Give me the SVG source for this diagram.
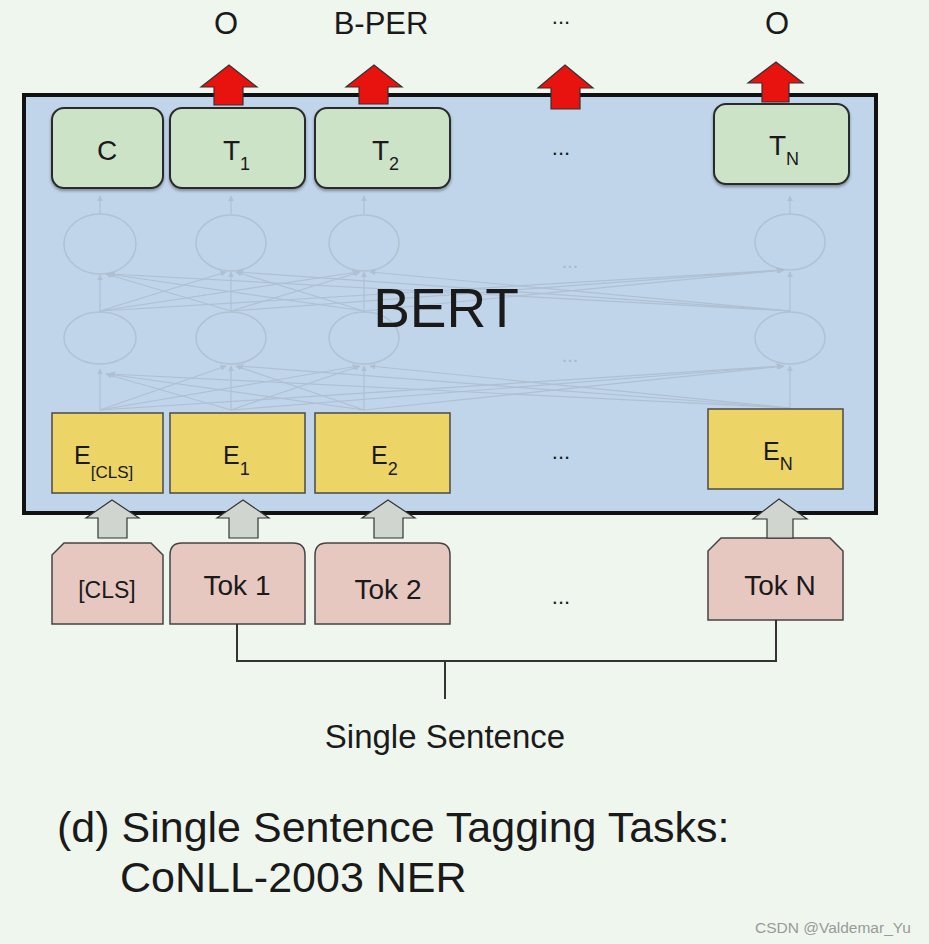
<svg xmlns="http://www.w3.org/2000/svg" width="929" height="944" viewBox="0 0 929 944">
<defs>
<style>
text{font-family:"Liberation Sans",Arial,sans-serif;fill:#1a1a1a}
.tbox{fill:#cde3c8;stroke:#2b2b2b;stroke-width:2}
.ebox{fill:#ecd467;stroke:#4a4a4a;stroke-width:1.5}
.tok{fill:#e6c8c1;stroke:#444;stroke-width:1.5}
.red{fill:#e8120f;stroke:#333;stroke-width:1.2}
.grey{fill:#d0d6cf;stroke:#333;stroke-width:1.2}
.net{stroke:#a9bacb;stroke-width:1.2;fill:none;opacity:0.75}
.node{fill:none;stroke:#adbdcd;stroke-width:1.5;opacity:0.8}
.conn{stroke:#333;stroke-width:2;fill:none}
</style>
<marker id="ah" viewBox="0 0 10 10" refX="9" refY="5" markerWidth="5" markerHeight="5" orient="auto">
<path d="M0,0 L10,5 L0,10 z" fill="#a9bacb"/>
</marker>
<filter id="sh" x="-10%" y="-10%" width="120%" height="130%">
<feDropShadow dx="0" dy="2" stdDeviation="1.5" flood-color="#000" flood-opacity="0.35"/>
</filter>
</defs>
<rect width="929" height="944" fill="#eff6ee"/>

<g id="bert-box">
<rect x="24" y="95" width="852" height="418" fill="#c0d4ea" stroke="#111" stroke-width="4"/>
</g>

<g id="network">
<ellipse class="node" cx="100" cy="244" rx="36" ry="30"/>
<ellipse class="node" cx="231" cy="243" rx="35" ry="28"/>
<ellipse class="node" cx="364" cy="243" rx="35" ry="28"/>
<ellipse class="node" cx="790" cy="242" rx="35" ry="28"/>
<ellipse class="node" cx="100" cy="338" rx="36" ry="26"/>
<ellipse class="node" cx="231" cy="338" rx="35" ry="26"/>
<ellipse class="node" cx="364" cy="338" rx="35" ry="26"/>
<ellipse class="node" cx="790" cy="338" rx="35" ry="26"/>
<g class="net" marker-end="url(#ah)">
<line x1="100" y1="214" x2="100" y2="196"/>
<line x1="231" y1="214" x2="231" y2="196"/>
<line x1="364" y1="214" x2="364" y2="196"/>
<line x1="790" y1="214" x2="790" y2="196"/>
<line x1="100" y1="311" x2="100" y2="275"/>
<line x1="231" y1="311" x2="231" y2="272"/>
<line x1="364" y1="311" x2="364" y2="272"/>
<line x1="790" y1="311" x2="790" y2="272"/>
<line x1="231" y1="311" x2="106" y2="274"/>
<line x1="364" y1="311" x2="108" y2="274"/>
<line x1="790" y1="311" x2="110" y2="274"/>
<line x1="100" y1="311" x2="226" y2="272"/>
<line x1="364" y1="311" x2="236" y2="272"/>
<line x1="790" y1="311" x2="238" y2="272"/>
<line x1="100" y1="311" x2="358" y2="272"/>
<line x1="231" y1="311" x2="360" y2="272"/>
<line x1="790" y1="311" x2="370" y2="272"/>
<line x1="100" y1="311" x2="782" y2="270"/>
<line x1="231" y1="311" x2="783" y2="270"/>
<line x1="364" y1="311" x2="784" y2="270"/>
<line x1="100" y1="410" x2="100" y2="369"/>
<line x1="231" y1="410" x2="231" y2="366"/>
<line x1="364" y1="410" x2="364" y2="366"/>
<line x1="790" y1="408" x2="790" y2="366"/>
<line x1="231" y1="410" x2="106" y2="374"/>
<line x1="364" y1="410" x2="108" y2="374"/>
<line x1="790" y1="408" x2="110" y2="374"/>
<line x1="100" y1="410" x2="226" y2="366"/>
<line x1="364" y1="410" x2="236" y2="366"/>
<line x1="790" y1="408" x2="238" y2="366"/>
<line x1="100" y1="410" x2="358" y2="366"/>
<line x1="231" y1="410" x2="360" y2="366"/>
<line x1="790" y1="408" x2="370" y2="366"/>
<line x1="100" y1="410" x2="782" y2="366"/>
<line x1="231" y1="410" x2="783" y2="366"/>
<line x1="364" y1="410" x2="784" y2="366"/>
</g>
<text x="570" y="268" font-size="20" text-anchor="middle" style="fill:#a8b8c8">...</text>
<text x="570" y="362" font-size="20" text-anchor="middle" style="fill:#a8b8c8">...</text>
</g>

<g id="bert-label">
<text x="446" y="327" font-size="55" text-anchor="middle">BERT</text>
</g>

<g id="outputs">
<text x="226" y="34" font-size="31" text-anchor="middle">O</text>
<text x="381" y="34" font-size="31" text-anchor="middle">B-PER</text>
<text x="561" y="24" font-size="22" text-anchor="middle">...</text>
<text x="777" y="34" font-size="31" text-anchor="middle">O</text>
</g>

<g id="node-C">
<rect class="tbox" filter="url(#sh)" x="52" y="108" width="111" height="80" rx="12"/>
<text x="107" y="160" font-size="28" text-anchor="middle">C</text>
</g>
<g id="node-T1">
<rect class="tbox" filter="url(#sh)" x="170" y="108" width="135" height="80" rx="12"/>
<text x="223" y="160" font-size="28">T<tspan dy="10" font-size="18">1</tspan></text>
</g>
<g id="node-T2">
<rect class="tbox" filter="url(#sh)" x="315" y="108" width="135" height="80" rx="12"/>
<text x="372" y="160" font-size="28">T<tspan dy="10" font-size="18">2</tspan></text>
</g>
<text x="561" y="155" font-size="22" text-anchor="middle">...</text>
<g id="node-TN">
<rect class="tbox" filter="url(#sh)" x="714" y="104" width="135" height="80" rx="12"/>
<text x="769" y="155" font-size="28">T<tspan dy="10" font-size="18">N</tspan></text>
</g>

<g id="node-ECLS">
<rect class="ebox" x="52" y="413" width="111" height="80"/>
<text x="74" y="464" font-size="25">E<tspan dy="14" font-size="17">[CLS]</tspan></text>
</g>
<g id="node-E1">
<rect class="ebox" x="170" y="413" width="135" height="80"/>
<text x="223" y="464" font-size="25">E<tspan dy="11" font-size="18">1</tspan></text>
</g>
<g id="node-E2">
<rect class="ebox" x="315" y="413" width="135" height="80"/>
<text x="371" y="464" font-size="25">E<tspan dy="11" font-size="18">2</tspan></text>
</g>
<text x="561" y="459" font-size="22" text-anchor="middle">...</text>
<g id="node-EN">
<rect class="ebox" x="708" y="409" width="135" height="80"/>
<text x="763" y="460" font-size="25">E<tspan dy="10" font-size="18">N</tspan></text>
</g>

<g id="node-CLS">
<path class="tok" d="M64,543 H151 L163,555 V624 H52 V555 Z"/>
<text x="107" y="598" font-size="23" text-anchor="middle">[CLS]</text>
</g>
<g id="node-Tok1">
<path class="tok" d="M182,543 H293 Q305,543 305,555 V624 H170 V555 Q170,543 182,543 Z"/>
<text x="237" y="595" font-size="28" text-anchor="middle">Tok 1</text>
</g>
<g id="node-Tok2">
<path class="tok" d="M327,543 H438 Q450,543 450,555 V624 H315 V555 Q315,543 327,543 Z"/>
<text x="388" y="599" font-size="28" text-anchor="middle">Tok 2</text>
</g>
<text x="561" y="604" font-size="22" text-anchor="middle">...</text>
<g id="node-TokN">
<path class="tok" d="M721,538 H830 L843,551 V620 H708 V551 Z"/>
<text x="780" y="595" font-size="28" text-anchor="middle">Tok N</text>
</g>

<g id="connectors">
<polygon class="red" points="229,65 257,87 243,87 243,105 214,105 214,87 201,87"/>
<polygon class="red" points="374,65 402,87 388,87 388,104 359,104 359,87 346,87"/>
<polygon class="red" points="565,65 593,88 580,88 580,109 551,109 551,88 538,88"/>
<polygon class="red" points="776,62 803,83 789,83 789,102 762,102 762,83 748,83"/>
<polygon class="grey" points="112,500 139,518 127,518 127,538 98,538 98,518 86,518"/>
<polygon class="grey" points="243,500 269,518 258,518 258,538 229,538 229,518 217,518"/>
<polygon class="grey" points="388,500 415,518 403,518 403,538 374,538 374,518 362,518"/>
<polygon class="grey" points="779,499 807,519 793,519 793,538 767,538 767,519 753,519"/>
<path class="conn" d="M237,624 V661 H776 V620"/>
<line class="conn" x1="445" y1="661" x2="445" y2="699"/>
</g>

<g id="labels">
<text x="445" y="748" font-size="33" text-anchor="middle">Single Sentence</text>
<text x="57" y="842" font-size="43">(d) Single Sentence Tagging Tasks:</text>
<text x="120" y="892" font-size="43">CoNLL-2003 NER</text>
<text x="755" y="933" font-size="15.5" style="fill:#9a9a9a">CSDN @Valdemar_Yu</text>
</g>
</svg>
